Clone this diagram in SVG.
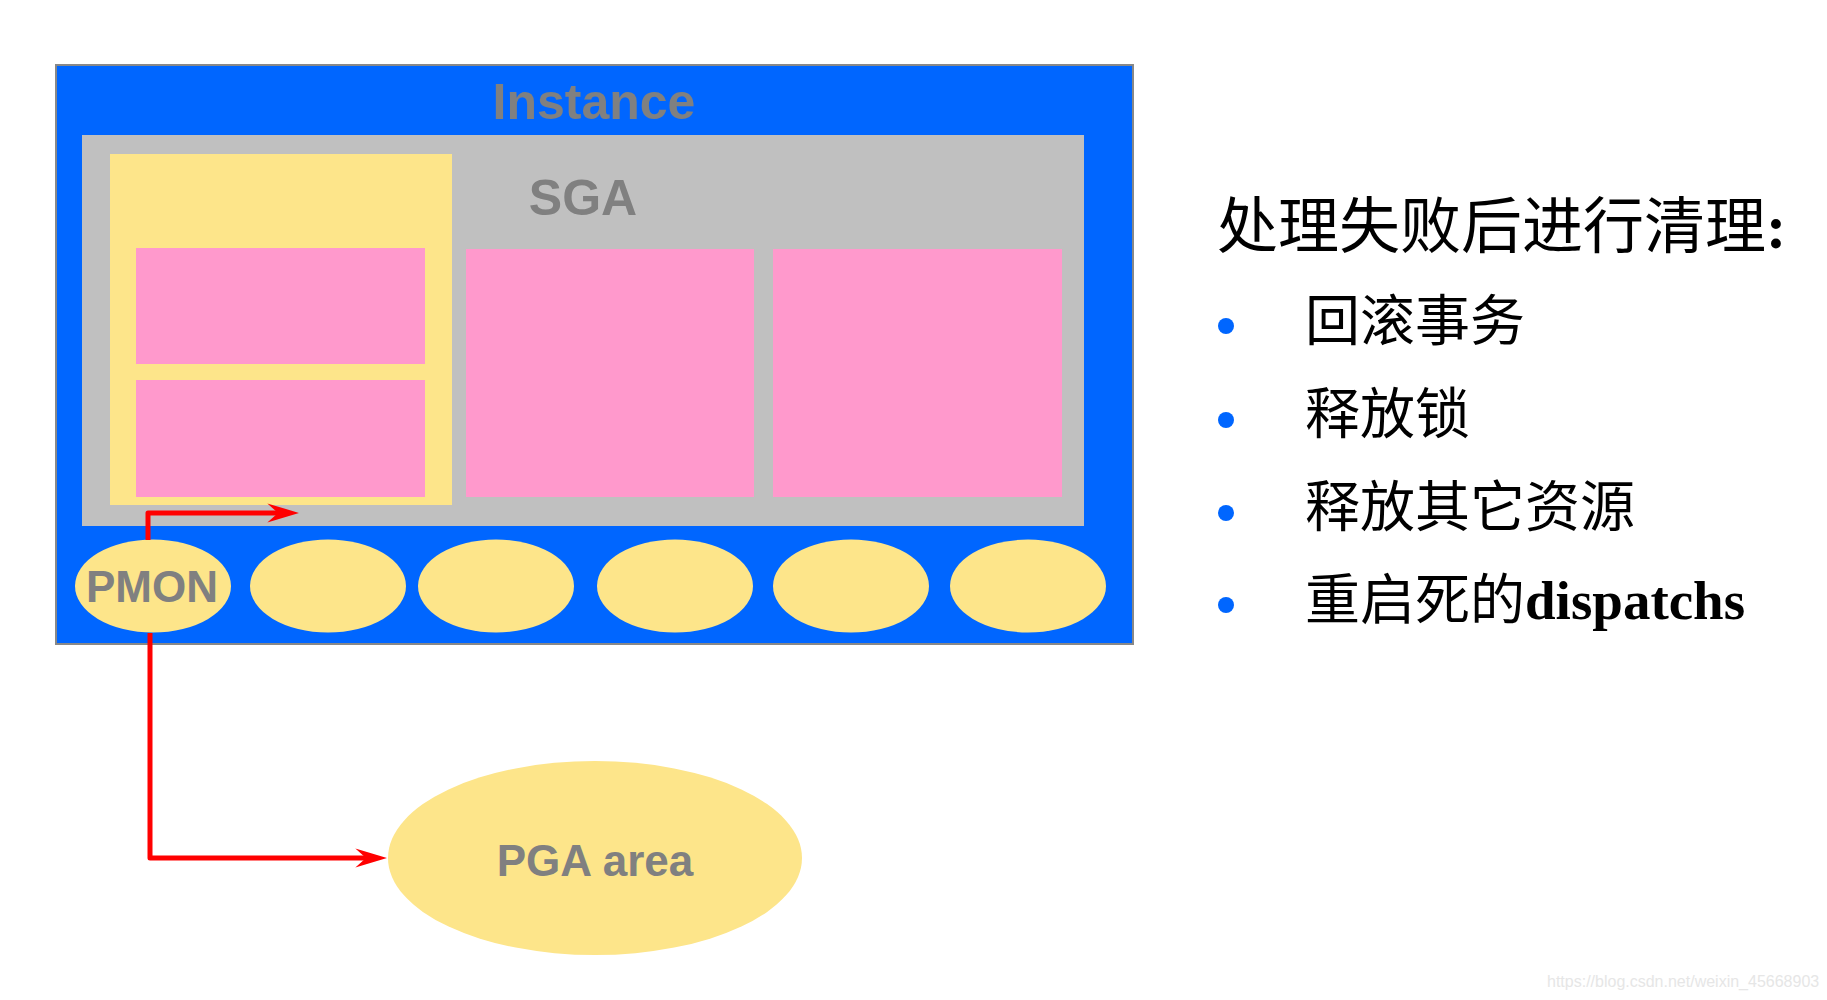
<svg xmlns="http://www.w3.org/2000/svg" width="1827" height="1000" viewBox="0 0 1827 1000">
<style>
.lbl{font-family:"Liberation Sans",Arial,sans-serif;font-weight:bold;fill:#808080;text-anchor:middle}
.yel{fill:#FDE58A}
.pink{fill:#FF99CC}
.conn{fill:none;stroke:#FF0000;stroke-width:5;stroke-linejoin:round}
.cjk{font-family:"Liberation Serif","Noto Sans CJK SC",serif;fill:#000}
.dot{fill:#0066FF}
</style>
<defs>
<marker id="arr" markerUnits="userSpaceOnUse" markerWidth="32" markerHeight="20" viewBox="0 0 30 18" refX="10" refY="9" orient="auto">
<path d="M0,0 L30,9 L0,18 L10,9 Z" fill="#FF0000"/>
</marker>
</defs>
<rect width="1827" height="1000" fill="#FFFFFF"/>
<g id="instance">
<rect x="56" y="65" width="1077" height="579" fill="#0066FF" stroke="#888888" stroke-width="2"/>
<text class="lbl" x="594" y="119" font-size="50">Instance</text>
</g>
<g id="sga">
<rect x="82" y="135" width="1002" height="391" fill="#C0C0C0"/>
<text class="lbl" x="583" y="215" font-size="50">SGA</text>
</g>
<g id="shared-pool">
<rect class="yel" x="110" y="154" width="342" height="351"/>
<rect class="pink" x="136" y="248" width="289" height="116"/>
<rect class="pink" x="136" y="380" width="289" height="117"/>
</g>
<g id="buffer-cache"><rect class="pink" x="466" y="249" width="288" height="248"/></g>
<g id="redo-buffer"><rect class="pink" x="773" y="249" width="289" height="248"/></g>
<g id="pmon">
<ellipse class="yel" cx="153" cy="586" rx="78" ry="46.5"/>
<text class="lbl" x="152" y="602" font-size="44">PMON</text>
</g>
<g id="proc2"><ellipse class="yel" cx="328" cy="586" rx="78" ry="46.5"/></g>
<g id="proc3"><ellipse class="yel" cx="496" cy="586" rx="78" ry="46.5"/></g>
<g id="proc4"><ellipse class="yel" cx="675" cy="586" rx="78" ry="46.5"/></g>
<g id="proc5"><ellipse class="yel" cx="851" cy="586" rx="78" ry="46.5"/></g>
<g id="proc6"><ellipse class="yel" cx="1028" cy="586" rx="78" ry="46.5"/></g>
<g id="pga">
<ellipse class="yel" cx="595" cy="858" rx="207" ry="97"/>
<text class="lbl" x="595" y="876" font-size="44">PGA area</text>
</g>
<g id="connectors">
<path class="conn" d="M148,540 V513 H278" marker-end="url(#arr)"/>
<path class="conn" d="M150,633 V858 H366" marker-end="url(#arr)"/>
</g>
<g id="notes">
<text class="cjk" x="1217" y="248" font-size="61">处理失败后进行清理<tspan font-weight="bold">:</tspan></text>
<circle class="dot" cx="1226" cy="326" r="8"/>
<text class="cjk" x="1305" y="340" font-size="55">回滚事务</text>
<circle class="dot" cx="1226" cy="420" r="8"/>
<text class="cjk" x="1305" y="433" font-size="55">释放锁</text>
<circle class="dot" cx="1226" cy="513" r="8"/>
<text class="cjk" x="1305" y="526" font-size="55">释放其它资源</text>
<circle class="dot" cx="1226" cy="605" r="8"/>
<text class="cjk" x="1305" y="619" font-size="55">重启死的<tspan font-weight="bold">dispatchs</tspan></text>
</g>
<text x="1547" y="987" font-family="Liberation Sans, Arial, sans-serif" font-size="16" fill="#E6E6E6">https://blog.csdn.net/weixin_45668903</text>
</svg>
